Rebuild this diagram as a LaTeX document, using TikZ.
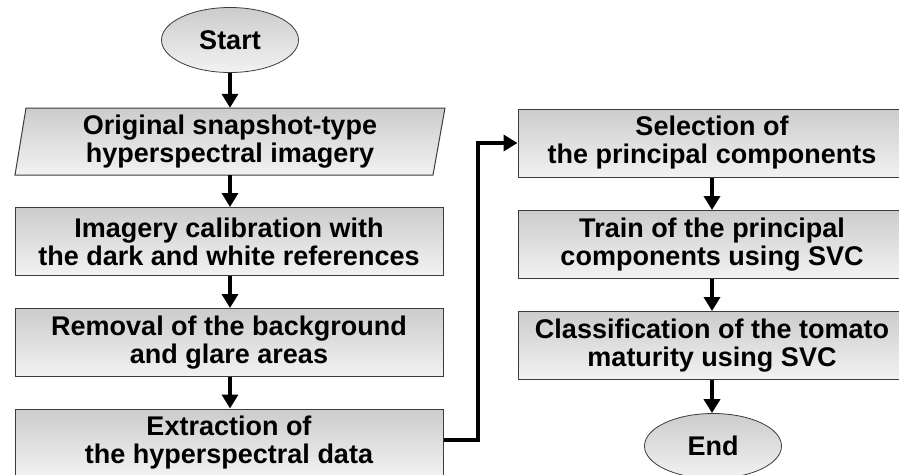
\documentclass[tikz,border=0pt]{standalone}
\usepackage{fontspec}
\setmainfont{Liberation Sans}
\usetikzlibrary{arrows.meta,shapes.geometric,calc}
\begin{document}
\begin{tikzpicture}[x=1pt,y=-1pt,
  boxfill/.style={top color={rgb,255:red,204;green,204;blue,204},bottom color={rgb,255:red,242;green,242;blue,242}},
  procbox/.style={draw={rgb,255:red,60;green,60;blue,60},line width=1pt,boxfill,rectangle,inner sep=0pt,
     minimum height=68pt,align=center,font=\fontsize{27}{28}\selectfont\bfseries},
  termnode/.style={draw={rgb,255:red,60;green,60;blue,60},line width=0.8pt,boxfill,ellipse,inner sep=0pt,
     minimum width=137pt,minimum height=65pt,font=\fontsize{27}{28}\selectfont\bfseries},
  txt/.style={inner sep=0pt,align=center,font=\fontsize{27}{28}\selectfont\bfseries},
  flow/.style={line width=3.6pt,-{Triangle[length=14pt,width=16pt]}}]
\useasboundingbox (0,0) rectangle (899,474);
% left column
\node[termnode] (start) at (230,40) {Start};
\draw[draw={rgb,255:red,60;green,60;blue,60},line width=1pt,boxfill] (26,108) -- (445,108) -- (433,175) -- (15,175) -- cycle;
\node[txt,minimum width=418pt,minimum height=67pt] (orig) at (230,141.5) {Original snapshot-type\\hyperspectral imagery};
\node[procbox,minimum width=428pt] (calib) at (229,241.5) {Imagery calibration with\\the dark and white references};
\node[procbox,minimum width=428pt] (remov) at (229,342.5) {Removal of the background\\and glare areas};
\node[procbox,minimum width=428pt] (extr) at (229,443) {Extraction of\\the hyperspectral data};
% right column
\node[procbox,minimum width=388pt] (sel) at (712,143) {Selection of\\the principal components};
\node[procbox,minimum width=388pt] (train) at (712,244.5) {Train of the principal\\components using SVC};
\node[procbox,minimum width=388pt] (class) at (712,345.5) {Classification of the tomato\\maturity using SVC};
\node[termnode] (end) at (713,446) {End};
% connectors
\draw[flow] (start.south) -- (orig.north);
\draw[flow] (orig.south) -- (orig.south |- calib.north);
\draw[flow] (orig.south |- calib.south) -- (orig.south |- remov.north);
\draw[flow] (orig.south |- remov.south) -- (orig.south |- extr.north);
\coordinate (c1) at (478,0);
\draw[flow] (extr.east |- 0,440) -- (c1 |- 0,440) -- (c1 |- sel.west) -- (sel.west);
\draw[flow] (sel.south) -- (train.north);
\draw[flow] (train.south) -- (class.north);
\draw[flow] (class.south) -- (class.south |- end.north);
\end{tikzpicture}
\end{document}
